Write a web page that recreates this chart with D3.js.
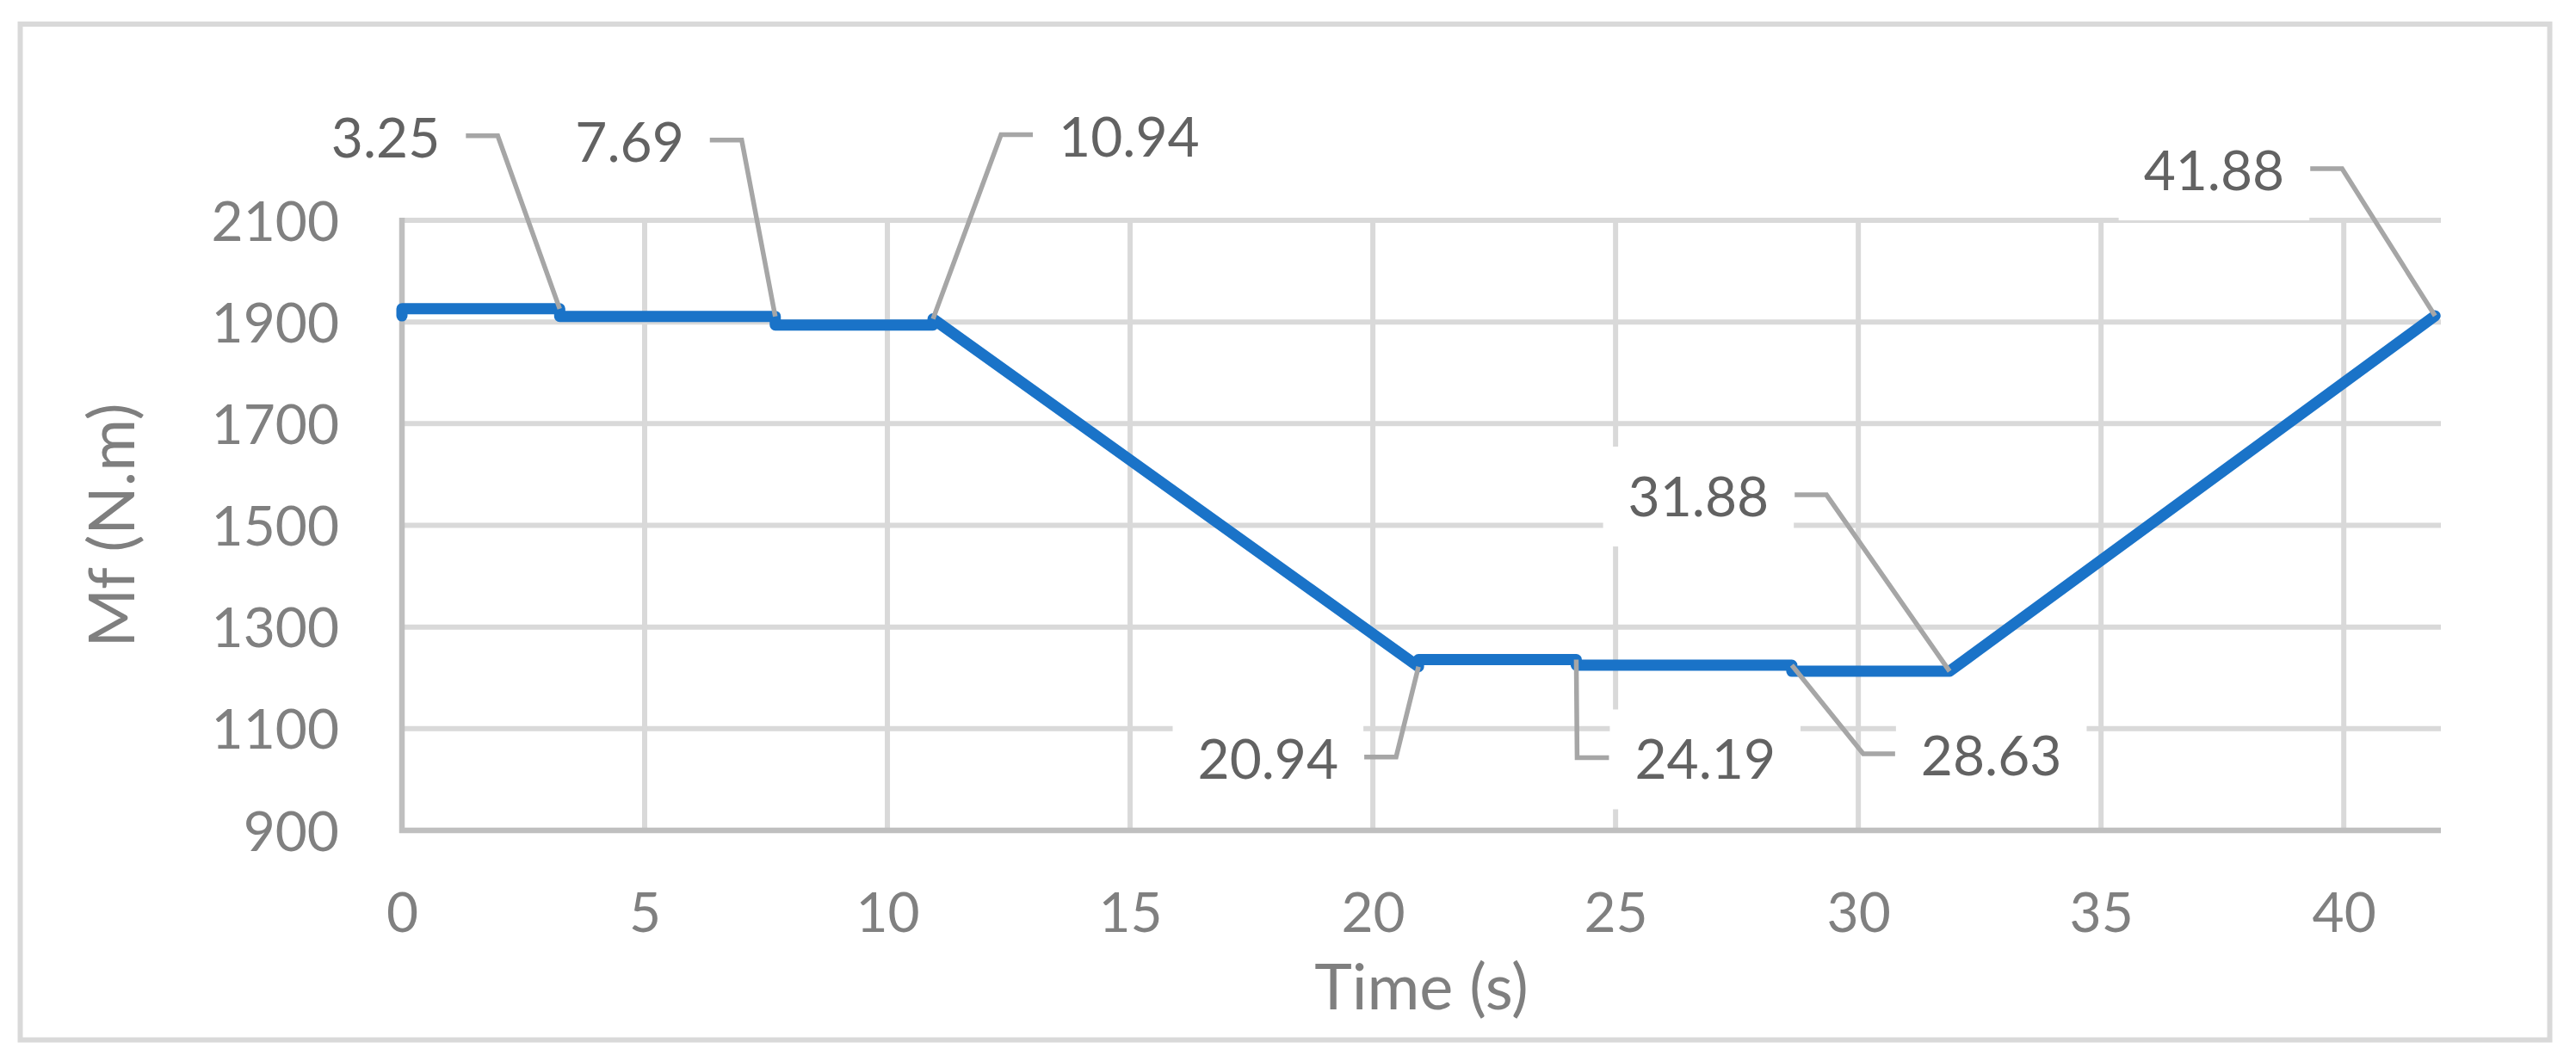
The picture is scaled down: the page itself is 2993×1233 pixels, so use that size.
<!DOCTYPE html>
<html>
<head>
<meta charset="utf-8">
<script src="https://cdn.jsdelivr.net/npm/d3@7"></script>
<style>
  html, body { margin: 0; padding: 0; background: #fff; }
  svg { display: block; }
</style>
</head>
<body>
<svg id="chart" width="2993" height="1233"></svg>
<script>
// ---- data ----
const timeS    = [0, 0, 3.25, 3.25, 7.69, 7.69, 10.94, 10.94, 20.94, 20.94, 24.19, 24.19, 28.63, 28.63, 31.88, 41.88];
const torqueNm = [1912, 1926, 1926, 1911, 1911, 1894, 1894, 1906, 1222, 1236, 1236, 1225, 1225, 1213, 1213, 1912];
const labelIndex = [2, 4, 7, 8, 10, 12, 14, 15];
const xTicks = [0, 5, 10, 15, 20, 25, 30, 35, 40];
const yTicks = [900, 1100, 1300, 1500, 1700, 1900, 2100];
const xTitle = "Time (s)";
const yTitle = "Mf (N.m)";

// ---- layout (label leader elbows relative to their point, side of text) ----
const labelLayout = [
  { dx: -72, dy: -201, side: "left" },
  { dx: -39, dy: -205, side: "left" },
  { dx: 79,  dy: -214, side: "right" },
  { dx: -26, dy: 105,  side: "left" },
  { dx: 1,   dy: 114,  side: "right" },
  { dx: 83,  dy: 103,  side: "right" },
  { dx: -143, dy: -205, side: "left" },
  { dx: -108, dy: -171, side: "left" }
];

(function () {
const svg = d3.select("#chart");
const pL = 467, pR = 2836, pT = 256, pB = 965;

const x = d3.scaleLinear().domain([0, 42]).range([pL, pR]);
const y = d3.scaleLinear().domain([900, 2100]).range([pB, pT]);

const FONT = "Lato, 'Open Sans', 'DejaVu Sans', sans-serif";

// outer frame
svg.append("rect")
  .attr("x", 23.5).attr("y", 28).attr("width", 2962.5 - 23.5).attr("height", 1208.5 - 28)
  .attr("fill", "#fff").attr("stroke", "#d9d9d9").attr("stroke-width", 6);

// gridlines
const grid = svg.append("g");
grid.selectAll(".hg").data(yTicks.filter(v => v !== 900)).enter().append("line")
  .attr("x1", pL).attr("x2", pR)
  .attr("y1", d => y(d)).attr("y2", d => y(d))
  .attr("stroke", "#d9d9d9").attr("stroke-width", 6);
grid.selectAll(".vg").data(xTicks.filter(v => v !== 0)).enter().append("line")
  .attr("x1", d => x(d)).attr("x2", d => x(d))
  .attr("y1", pT).attr("y2", pB)
  .attr("stroke", "#d9d9d9").attr("stroke-width", 6);

// axes lines
svg.append("line").attr("x1", pL).attr("x2", pL).attr("y1", pT - 3).attr("y2", pB + 3)
  .attr("stroke", "#bfbfbf").attr("stroke-width", 6.5);
svg.append("line").attr("x1", pL - 3).attr("x2", pR).attr("y1", pB).attr("y2", pB)
  .attr("stroke", "#bfbfbf").attr("stroke-width", 6.5);

// tick labels via d3 axes
const xAxis = svg.append("g").attr("transform", `translate(0,${pB})`)
  .call(d3.axisBottom(x).tickValues(xTicks).tickSize(0).tickFormat(d3.format("d")));
xAxis.select(".domain").remove();
xAxis.selectAll("text").attr("y", 118).attr("dy", 0)
  .attr("font-family", FONT).attr("font-size", 64).attr("fill", "#808080");

const yAxis = svg.append("g").attr("transform", `translate(${pL},0)`)
  .call(d3.axisLeft(y).tickValues(yTicks).tickSize(0).tickFormat(d3.format("d")));
yAxis.select(".domain").remove();
yAxis.selectAll("text").attr("x", -(pL - 394)).attr("dy", 0)
  .attr("transform", "translate(0,23)")
  .attr("font-family", FONT).attr("font-size", 64).attr("fill", "#808080");

// axis titles
svg.append("text").attr("x", (pL + pR) / 2).attr("y", 1173)
  .attr("text-anchor", "middle").attr("font-family", FONT).attr("font-size", 74)
  .attr("fill", "#7f7f7f").text(xTitle);
svg.append("text").attr("transform", `translate(156,${(pT + pB) / 2}) rotate(-90)`)
  .attr("text-anchor", "middle").attr("font-family", FONT).attr("font-size", 74)
  .attr("fill", "#7f7f7f").text(yTitle);

// data line
const pts = timeS.map((t, i) => [t, torqueNm[i]]);
svg.append("path")
  .attr("d", d3.line().x(d => x(d[0])).y(d => y(d[1]))(pts))
  .attr("fill", "none").attr("stroke", "#1a73c8").attr("stroke-width", 13)
  .attr("stroke-linejoin", "round").attr("stroke-linecap", "round");

// data labels with leader lines
const HLEN = 37, GAP = 30, PADY = 58;
const lbl = svg.append("g");
labelIndex.forEach((idx, k) => {
  const L = labelLayout[k];
  const px = x(timeS[idx]), py = y(torqueNm[idx]);
  const ex = px + L.dx, ey = py + L.dy;
  const hx = L.side === "left" ? ex - HLEN : ex + HLEN;
  const txt = timeS[idx].toFixed(2);
  const g = lbl.append("g");
  const t = g.append("text")
    .attr("x", L.side === "left" ? hx - GAP : hx + GAP)
    .attr("y", ey + 25)
    .attr("text-anchor", L.side === "left" ? "end" : "start")
    .attr("font-family", FONT).attr("font-size", 64).attr("fill", "#626262")
    .text(txt);
  const bb = t.node().getBBox();
  g.insert("rect", "text")
    .attr("x", bb.x - GAP + 1).attr("width", bb.width + 2 * GAP - 2)
    .attr("y", ey + 2 - PADY).attr("height", 2 * PADY)
    .attr("fill", "#fff");
  lbl.append("path")
    .attr("d", d3.line()([[hx, ey], [ex, ey], [px, py]]))
    .attr("fill", "none").attr("stroke", "#a6a6a6").attr("stroke-width", 5.5)
    .attr("stroke-linejoin", "miter");
});
})();
</script>
</body>
</html>
